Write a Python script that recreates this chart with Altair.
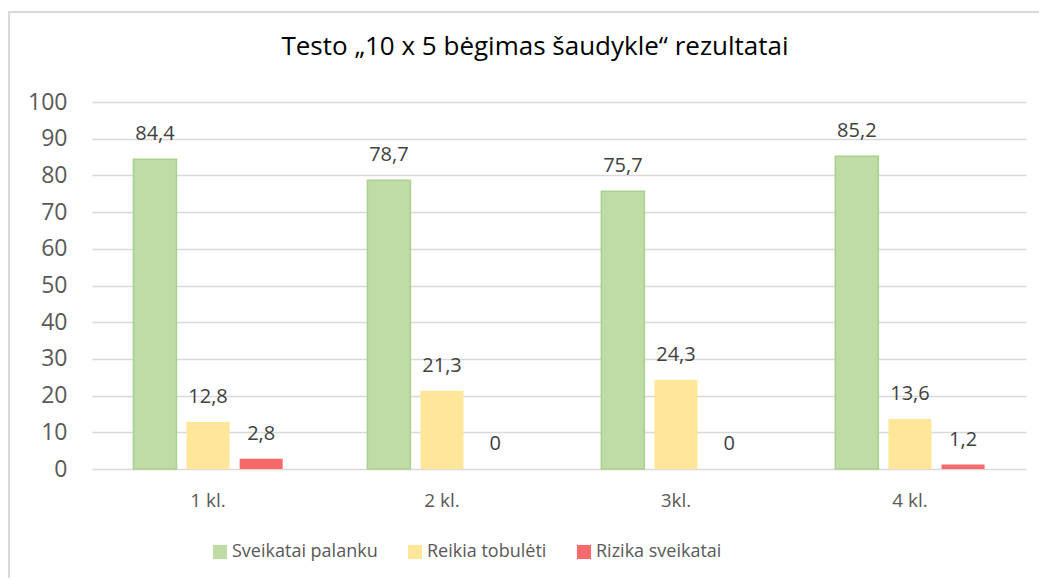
import altair as alt
import pandas as pd

categories = ["1 kl.", "2 kl.", "3kl.", "4 kl."]
series = ["Sveikatai palanku", "Reikia tobulėti", "Rizika sveikatai"]
palanku = [84.4, 78.7, 75.7, 85.2]
tobuleti = [12.8, 21.3, 24.3, 13.6]
rizika = [2.8, 0, 0, 1.2]
y_ticks = [0, 10, 20, 30, 40, 50, 60, 70, 80, 90, 100]

fills = ["#bfdba6", "#ffe699", "#f8696b"]
strokes = ["#a9d18e", "transparent", "transparent"]

rows = []
for s, vals in zip(series, [palanku, tobuleti, rizika]):
    for c, v in zip(categories, vals):
        rows.append({"cat": c, "series": s, "value": v,
                     "label": f"{v:g}".replace(".", ",")})
df = pd.DataFrame(rows)

FONT = "Open Sans"

x_enc = alt.X("cat:N", sort=categories, title=None,
              scale=alt.Scale(paddingInner=0.362, paddingOuter=0.177),
              axis=alt.Axis(ticks=False, domain=False, labelAngle=0,
                            labelFontSize=19, labelColor="#595959",
                            labelFont=FONT, labelPadding=22))
xo_enc = alt.XOffset("series:N", sort=series,
                     scale=alt.Scale(paddingInner=0.19, paddingOuter=0))
y_enc = alt.Y("value:Q", title=None, scale=alt.Scale(domain=[0, 100]),
              axis=alt.Axis(values=y_ticks, ticks=False, domain=False,
                            labelFontSize=23, labelColor="#595959",
                            labelFont=FONT, labelPadding=25,
                            gridColor="#d9d9d9", gridWidth=1.5))

base = alt.Chart(df)

bars = base.mark_bar(strokeWidth=1.5).encode(
    x=x_enc, xOffset=xo_enc, y=y_enc,
    color=alt.Color("series:N", sort=series,
                    scale=alt.Scale(domain=series, range=fills),
                    legend=alt.Legend(title=None, orient="none",
                                      direction="horizontal",
                                      legendX=119, legendY=441,
                                      symbolType="square", symbolSize=200,
                                      symbolStrokeWidth=0,
                                      labelFontSize=18, labelFont=FONT,
                                      labelColor="#595959", labelOffset=3,
                                      columnPadding=28)),
    stroke=alt.Stroke("series:N", sort=series,
                      scale=alt.Scale(domain=series, range=strokes),
                      legend=None),
)

labels = base.mark_text(baseline="alphabetic", dy=-19, fontSize=20,
                        font=FONT, color="#404040").encode(
    x=x_enc, xOffset=xo_enc, y=y_enc, text="label:N")

border_df = pd.DataFrame({"k": [0]})
top_line = alt.Chart(border_df).mark_rule(stroke="#d9d9d9",
                                          strokeWidth=2).encode(
    x=alt.value(-84), x2=alt.value(2000), y=alt.value(-90))
left_line = alt.Chart(border_df).mark_rule(stroke="#d9d9d9",
                                           strokeWidth=2).encode(
    x=alt.value(-83), y=alt.value(-91), y2=alt.value(2000))

chart = alt.layer(top_line, left_line, bars, labels).properties(
    width=934, height=367,
    autosize=alt.AutoSizeParams(type="none"),
    padding={"left": 84, "top": 94, "right": 13, "bottom": 109},
    title=alt.TitleParams("Testo „10 x 5 bėgimas šaudykle“ rezultatai",
                          font=FONT, fontSize=26, fontWeight="normal",
                          color="#000000", anchor="middle", dx=-24,
                          offset=43, dy=93),
).configure_view(stroke=None)

chart.save("out.html", embed_options={"renderer": "svg", "actions": False})
